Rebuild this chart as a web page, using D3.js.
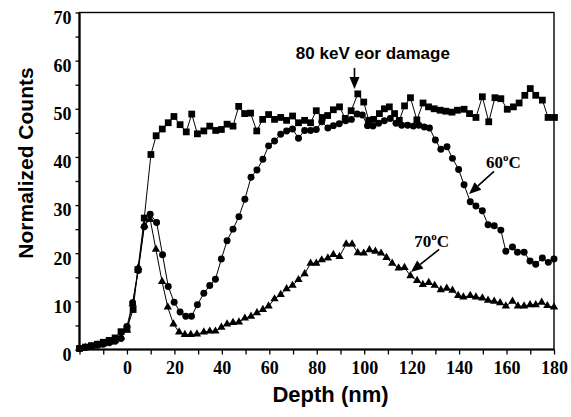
<!DOCTYPE html>
<html>
<head>
<meta charset="utf-8">
<script src="https://cdn.jsdelivr.net/npm/d3@7"></script>
<style>
  html, body { margin: 0; padding: 0; background: #fff; }
  svg { display: block; }
</style>
</head>
<body>
<svg id="chart" width="571" height="417"></svg>
<script>
// ---------------- data ----------------
const xTickValues = [-20,-10,0,10,20,30,40,50,60,70,80,90,100,110,120,130,140,150,160,170,180];
const xTickLabels = [0,20,40,60,80,100,120,140,160,180];
const yTickValues = [0,5,10,15,20,25,30,35,40,45,50,55,60,65,70];
const yTickLabels = [0,10,20,30,40,50,60,70];

// as-implanted (squares)
const sqDepth = [-20,-17.5,-15,-12.5,-10,-7.5,-5,-2.5,0,2.6,4.6,7.3,10.1,12.3,14.9,17.4,19.8,22.4,25.0,27.3,29.7,32.4,34.9,37.4,39.8,42.2,44.7,47.1,49.6,52.1,54.7,57.2,59.7,62.2,64.8,67.3,69.8,72.3,74.9,77.4,79.8,82.3,84.6,87.0,89.6,92.0,94.5,97.3,99.8,101.9,104.0,106.4,108.5,110.6,112.8,114.8,117.0,119.5,122.2,124.8,127.1,129.5,132.0,134.4,137.0,139.3,142.1,144.4,147.1,149.8,152.5,155.1,157.6,160.3,162.9,165.3,167.7,170.0,172.3,175.1,177.5,180.2];
const sqCounts = [0.2,0.5,0.8,1.1,1.5,1.9,2.4,3.7,4.3,8.3,16.6,27.3,40.5,44.4,45.8,47.1,48.4,46.7,45.2,48.9,44.8,45.4,46.4,45.5,45.7,46.8,46.4,50.5,49.0,49.1,45.4,47.8,48.8,47.8,48.2,47.6,48.5,47.1,47.6,47.1,49.6,48.2,48.6,49.8,50.4,48.0,49.6,53.1,51.4,47.6,47.8,49.0,50.0,50.4,49.0,47.6,50.6,52.3,47.7,51.2,50.4,50.0,49.7,49.5,49.3,49.7,49.9,49.0,48.2,52.5,47.3,52.3,52.1,49.9,50.4,51.2,52.8,54.2,52.8,51.8,48.2,48.2];

// 60 °C anneal (circles)
const c60Depth = [-20,-17.5,-15,-12.5,-10,-7.5,-5,-2.5,0,2.4,4.8,7.3,9.8,12.5,15.0,17.4,19.9,22.4,24.8,27.2,29.7,32.4,34.9,37.3,39.8,42.2,44.7,47.2,49.7,52.3,54.8,57.3,59.7,62.2,64.8,67.3,69.8,72.3,74.9,77.4,79.8,82.1,84.7,87.0,89.5,92.2,94.6,97.0,99.2,101.4,103.7,106.1,108.5,111.0,113.4,115.8,118.3,120.7,123.0,125.3,127.5,130.0,132.3,134.9,137.2,139.8,142.1,144.7,147.1,149.8,152.2,154.8,157.6,159.7,162.5,164.6,167.4,169.9,172.3,175.1,177.6,180.0];
const c60Counts = [0.2,0.4,0.6,0.9,1.1,1.4,1.7,2.3,4.8,9.7,16.4,25.5,28.1,26.4,19.7,13.1,9.8,7.8,6.9,6.9,9.3,11.7,13.3,14.6,18.8,22.6,25.0,27.6,31.2,35.8,37.3,39.5,42.3,43.3,44.7,45.4,45.8,43.9,45.5,45.5,45.7,47.3,46.0,46.5,46.9,47.5,47.8,48.9,48.7,46.5,46.4,47.0,47.5,48.0,47.0,46.6,46.6,46.4,46.6,46.2,46.0,43.5,41.6,42.1,39.7,37.4,34.2,30.7,29.8,28.8,25.9,25.7,24.8,20.4,21.3,20.2,20.2,18.4,17.7,19.0,18.1,18.8];

// 70 °C anneal (triangles)
const c70Depth = [-20,-17.5,-15,-12.5,-10,-7.5,-5,-2.5,0,2.4,4.8,7.3,9.8,12.2,14.8,17.2,19.6,22.0,24.4,26.9,29.5,32.4,34.9,37.3,39.8,42.2,44.7,47.2,49.7,52.3,54.8,57.3,59.7,62.2,64.8,67.3,69.8,72.3,74.9,77.4,79.8,82.1,84.7,87.0,89.6,92.4,94.9,97.3,99.8,102.2,104.7,107.1,109.4,111.8,114.5,117.0,119.5,122.3,124.7,127.2,129.7,132.3,134.8,137.2,139.6,141.8,144.7,147.1,149.8,152.2,154.8,157.3,159.7,162.5,164.8,167.4,169.9,172.3,174.8,177.2,180.0];
const c70Counts = [0.2,0.4,0.6,0.9,1.2,1.5,1.9,2.6,4.0,9.5,17.0,25.8,27.0,20.8,14.1,8.8,5.3,3.6,3.1,3.1,3.2,3.6,3.8,3.8,4.6,5.3,5.6,5.7,6.5,6.9,7.6,8.3,9.0,10.5,11.4,12.6,13.3,14.5,15.7,17.9,17.9,18.6,19.0,19.7,19.3,21.9,21.9,20.1,20.0,20.7,20.4,20.0,19.1,17.9,16.9,17.0,15.3,14.3,13.5,13.9,13.3,12.4,12.7,12.3,11.2,10.9,11.2,10.9,10.7,10.2,10.0,9.7,9.0,10.0,9.0,9.0,9.3,9.3,9.8,9.1,8.8];

// ---------------- layout ----------------
const W = 571, H = 417;
const margin = {left: 79.5, right: 17, top: 12.5, bottom: 67.5};
const svg = d3.select("#chart");

const x = d3.scaleLinear().domain([-20, 180]).range([margin.left, W - margin.right]);
const y = d3.scaleLinear().domain([0, 70]).range([H - margin.bottom, margin.top]);

const serif = "'Liberation Serif', 'Times New Roman', Times, serif";
const sans = "'Liberation Sans', Arial, Helvetica, sans-serif";

// axes
const xAxis = d3.axisBottom(x)
  .tickValues(xTickValues)
  .tickSize(5)
  .tickPadding(7)
  .tickFormat(v => xTickLabels.includes(v) ? String(v) : "");
const gx = svg.append("g").attr("transform", `translate(0,${y(0)})`).call(xAxis);
gx.select(".domain").remove();
gx.selectAll(".tick line").attr("stroke", "#000").attr("stroke-width", 1.3);
gx.selectAll(".tick text")
  .attr("font-family", serif).attr("font-weight", "bold").attr("font-size", 18)
  .attr("fill", "#000");

const yAxis = d3.axisLeft(y)
  .tickValues(yTickValues)
  .tickSize(4)
  .tickPadding(4)
  .tickFormat(v => yTickLabels.includes(v) ? String(v) : "");
const gy = svg.append("g").attr("transform", `translate(${x(-20)},0)`).call(yAxis);
gy.select(".domain").remove();
gy.selectAll(".tick line").attr("stroke", "#000").attr("stroke-width", 1.3);
gy.selectAll(".tick text")
  .attr("font-family", serif).attr("font-weight", "bold").attr("font-size", 18)
  .attr("fill", "#000").attr("dy", "0.6em");

// frame
svg.append("rect")
  .attr("x", x(-20)).attr("y", y(70))
  .attr("width", x(180) - x(-20)).attr("height", y(0) - y(70))
  .attr("fill", "none").attr("stroke", "#000").attr("stroke-width", 1.4);
svg.append("line").attr("x1", x(-20)).attr("x2", x(-20)).attr("y1", y(70)).attr("y2", y(0))
  .attr("stroke", "#000").attr("stroke-width", 2.2);
svg.append("line").attr("x1", x(-20)).attr("x2", x(180)).attr("y1", y(0)).attr("y2", y(0))
  .attr("stroke", "#000").attr("stroke-width", 2.2);

// series
const series = [
  {depth: sqDepth, counts: sqCounts, symbol: d3.symbolSquare, size: 46},
  {depth: c60Depth, counts: c60Counts, symbol: d3.symbolCircle, size: 38},
  {depth: c70Depth, counts: c70Counts, symbol: d3.symbolTriangle, size: 30}
];

const line = d3.line().x(d => x(d[0])).y(d => y(d[1]));

series.forEach(s => {
  const pts = s.depth.map((d, i) => [d, s.counts[i]]);
  svg.append("path").datum(pts)
    .attr("d", line).attr("fill", "none").attr("stroke", "#000").attr("stroke-width", 1);
});
series.forEach(s => {
  const pts = s.depth.map((d, i) => [d, s.counts[i]]);
  svg.append("g").selectAll("path").data(pts).join("path")
    .attr("transform", d => `translate(${x(d[0])},${y(d[1])})`)
    .attr("d", d3.symbol().type(s.symbol).size(s.size))
    .attr("fill", "#000");
});

// axis titles
svg.append("text")
  .attr("transform", `translate(33,163) rotate(-90)`)
  .attr("text-anchor", "middle")
  .attr("font-family", sans).attr("font-weight", "bold").attr("font-size", 21)
  .text("Normalized Counts");
svg.append("text")
  .attr("x", 330.5).attr("y", 402)
  .attr("text-anchor", "middle")
  .attr("font-family", sans).attr("font-weight", "bold").attr("font-size", 22)
  .text("Depth (nm)");

// annotations
function arrow(x1, y1, x2, y2) {
  const px1 = x(x1), py1 = y(y1), px2 = x(x2), py2 = y(y2);
  const ang = Math.atan2(py2 - py1, px2 - px1);
  const L = 12, hw = 5;
  const bx = px2 - L * Math.cos(ang), by = py2 - L * Math.sin(ang);
  svg.append("line").attr("x1", px1).attr("y1", py1).attr("x2", bx).attr("y2", by)
    .attr("stroke", "#000").attr("stroke-width", 1.6);
  const nx = -Math.sin(ang), ny = Math.cos(ang);
  svg.append("path")
    .attr("d", `M${px2},${py2}L${bx + nx * hw},${by + ny * hw}L${bx - nx * hw},${by - ny * hw}Z`)
    .attr("fill", "#000");
}

svg.append("text")
  .attr("x", x(71.2)).attr("y", y(60.3))
  .attr("font-family", sans).attr("font-weight", "bold").attr("font-size", 17)
  .text("80 keV eor damage");
arrow(95.9, 58.5, 95.9, 54.1);

function tempLabel(dx, dy, num) {
  const t = svg.append("text")
    .attr("x", x(dx)).attr("y", y(dy))
    .attr("font-family", serif).attr("font-weight", "bold").attr("font-size", 17);
  t.append("tspan").text(num);
  t.append("tspan").attr("font-size", 11).attr("dy", -7).text("o");
  t.append("tspan").attr("dy", 7).text("C");
}
tempLabel(151.3, 37.8, "60");
arrow(154.7, 37.0, 144.2, 32.3);
tempLabel(121.1, 21.3, "70");
arrow(131.6, 20.8, 119.7, 16.1);
</script>
</body>
</html>
